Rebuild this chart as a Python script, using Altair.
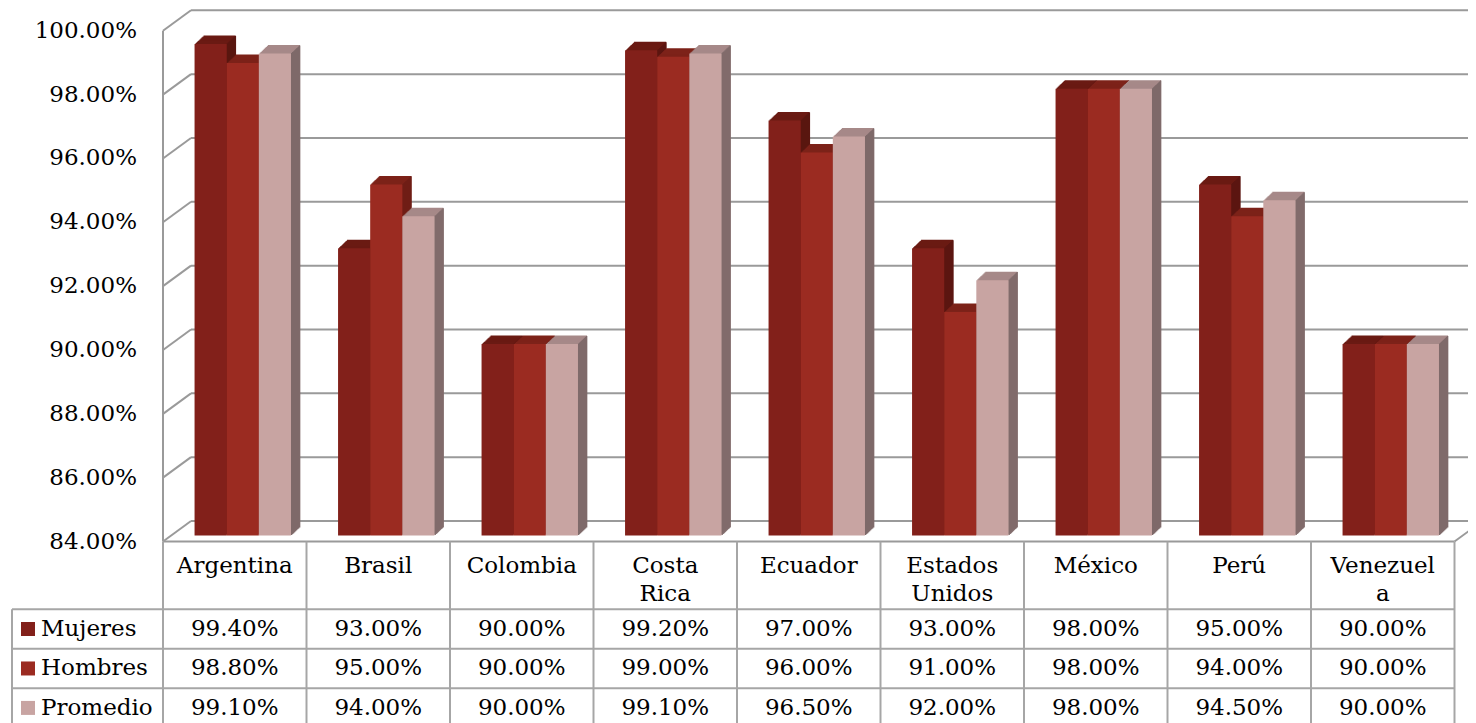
import altair as alt
import pandas as pd

# ---------------- data ----------------
countries = ["Argentina", "Brasil", "Colombia", "Costa Rica", "Ecuador",
             "Estados Unidos", "México", "Perú", "Venezuela"]
header_labels = ["Argentina", "Brasil", "Colombia", "Costa\nRica", "Ecuador",
                 "Estados\nUnidos", "México", "Perú", "Venezuel\na"]
series_names = ["Mujeres", "Hombres", "Promedio"]
mujeres = [99.40, 93.00, 90.00, 99.20, 97.00, 93.00, 98.00, 95.00, 90.00]
hombres = [98.80, 95.00, 90.00, 99.00, 96.00, 91.00, 98.00, 94.00, 90.00]
promedio = [99.10, 94.00, 90.00, 99.10, 96.50, 92.00, 98.00, 94.50, 90.00]
y_ticks = [84, 86, 88, 90, 92, 94, 96, 98, 100]

# ---------------- style ----------------
front_colors = ["#82201a", "#9b2b21", "#c8a4a2"]
top_colors = ["#6a1a13", "#7d2219", "#a68988"]
side_colors = ["#5a1610", "#6e1e16", "#7f6a6a"]
GRID = "#9a9a9a"
TBL = "#a6a6a6"
FONT = "DejaVu Serif"
FS = 23

PLOT_W, PLOT_H = 1305, 716
TABLE_W = 1291.5
Y_RANGE = [533.5, 22.8]
DEPTH_X, DEPTH_Y = 28, 20.5
BAR_DX, BAR_DY = 8, 6
EXT_X, EXT_Y = 9.0, 8.5
K = 9
BAR_W = 0.2239
HEADER_BOTTOM = 601.3
ROW_H = 39.45
LEG_X = -151

# ---------------- tables ----------------
rows = []
for i, c in enumerate(countries):
    for j, (s, vals) in enumerate(zip(series_names, [mujeres, hombres, promedio])):
        x0 = i + 0.5 + (j - 1.5) * BAR_W
        rows.append(dict(country=c, series=s, value=vals[i], x0=x0, x1=x0 + BAR_W,
                         base=y_ticks[0]))
bars_df = pd.DataFrame(rows)
grid_df = pd.DataFrame({"tick": y_ticks})
header_df = pd.DataFrame({"country": countries, "label": header_labels})
series_df = pd.DataFrame({"series": series_names})

xq = alt.Scale(domain=[0, len(countries)], range=[0, TABLE_W], zero=False, nice=False)
yq = alt.Scale(domain=[y_ticks[0], y_ticks[-1]], range=Y_RANGE, zero=False, nice=False)

# ---------------- 3D frame ----------------
back = alt.Chart(grid_df).mark_rule(color=GRID, strokeWidth=2, yOffset=-DEPTH_Y).encode(
    y=alt.Y("tick:Q", scale=yq, axis=None), x=alt.value(DEPTH_X), x2=alt.value(PLOT_W))
conn = alt.Chart(grid_df).mark_rule(color=GRID, strokeWidth=2, y2Offset=-DEPTH_Y).encode(
    y=alt.Y("tick:Q", scale=yq, axis=None), y2=alt.Y2("tick"),
    x=alt.value(0), x2=alt.value(DEPTH_X))
leftv = alt.Chart(grid_df).mark_rule(color=GRID, strokeWidth=2).encode(
    y=alt.Y("max(tick):Q", scale=yq, axis=None), y2=alt.Y2("min(tick)"), x=alt.value(0))
floor = alt.Chart(grid_df).mark_rule(color=GRID, strokeWidth=2).encode(
    y=alt.Y("min(tick):Q", scale=yq, axis=None), x=alt.value(0), x2=alt.value(TABLE_W))
rdiag = alt.Chart(grid_df).mark_rule(color=GRID, strokeWidth=2, y2Offset=-DEPTH_Y).encode(
    y=alt.Y("min(tick):Q", scale=yq, axis=None), y2=alt.Y2("min(tick)"),
    x=alt.value(TABLE_W), x2=alt.value(TABLE_W + DEPTH_X))
ylabels = alt.Chart(grid_df).transform_calculate(
    lbl="format(datum.tick, '.2f') + '%'"
).mark_text(align="right", baseline="middle", font=FONT, fontSize=FS, color="black").encode(
    y=alt.Y("tick:Q", scale=yq, axis=None), x=alt.value(-26), text="lbl:N")

# ---------------- 3D bars ----------------
bar_layers = []
for j, s in enumerate(series_names):
    src = alt.Chart(bars_df).transform_filter(alt.datum.series == s)
    enc = dict(x=alt.X("x0:Q", scale=xq, axis=None), x2=alt.X2("x1"),
               y=alt.Y("value:Q", scale=yq, axis=None), y2=alt.Y2("base"))
    enc_side = dict(x=alt.X("x1:Q", scale=xq, axis=None), x2=alt.X2("x1"),
                    y=alt.Y("value:Q", scale=yq, axis=None), y2=alt.Y2("base"))
    ex, ey = EXT_X / K, EXT_Y / K
    for k in range(K, 0, -1):
        ox = BAR_DX + k * ex
        oy = -BAR_DY - k * ey
        bar_layers.append(src.mark_rect(color=top_colors[j], xOffset=ox, x2Offset=ox,
                                        yOffset=oy, y2Offset=oy).encode(**enc))
    for k in range(1, K + 1):
        oy = -BAR_DY - (k - 0.5) * ey
        bar_layers.append(src.mark_rect(color=side_colors[j],
                                        xOffset=BAR_DX + (k - 1) * ex,
                                        x2Offset=BAR_DX + k * ex + 0.4,
                                        yOffset=oy, y2Offset=oy).encode(**enc_side))
    bar_layers.append(src.mark_rect(color=front_colors[j], xOffset=BAR_DX, x2Offset=BAR_DX,
                                    yOffset=-BAR_DY, y2Offset=-BAR_DY).encode(**enc))

bars_group = alt.layer(back, conn, leftv, floor, rdiag, ylabels, *bar_layers)

# ---------------- data table ----------------
xb = alt.Scale(type="band", domain=countries, range=[0, TABLE_W], paddingInner=0, paddingOuter=0)
yb = alt.Scale(type="band", domain=series_names,
               range=[HEADER_BOTTOM, HEADER_BOTTOM + 3 * ROW_H], paddingInner=0, paddingOuter=0)

tbl_h = alt.Chart(series_df).mark_rule(color=TBL, strokeWidth=2).encode(
    y=alt.Y("series:N", scale=yb, axis=None, bandPosition=0),
    x=alt.value(LEG_X), x2=alt.value(TABLE_W))
tbl_v = alt.Chart(header_df).mark_rule(color=TBL, strokeWidth=2).encode(
    x=alt.X("country:N", scale=xb, axis=None, bandPosition=0),
    y=alt.value(Y_RANGE[0]), y2=alt.value(PLOT_H))
tbl_r = alt.Chart(header_df).transform_filter(alt.datum.country == countries[-1]).mark_rule(
    color=TBL, strokeWidth=2).encode(
    x=alt.X("country:N", scale=xb, axis=None, bandPosition=1),
    y=alt.value(Y_RANGE[0]), y2=alt.value(PLOT_H))
tbl_l = alt.Chart(series_df).mark_rule(color=TBL, strokeWidth=2).encode(
    x=alt.value(LEG_X),
    y=alt.Y("series:N", scale=yb, axis=None, bandPosition=0), y2=alt.value(PLOT_H))
header = alt.Chart(header_df).mark_text(
    font=FONT, fontSize=FS, color="black", align="center", baseline="alphabetic",
    lineBreak="\n", lineHeight=28).encode(
    x=alt.X("country:N", scale=xb, axis=None, bandPosition=0.5),
    y=alt.value(565), text="label:N")
values = alt.Chart(bars_df).transform_calculate(
    lbl="format(datum.value, '.2f') + '%'"
).mark_text(font=FONT, fontSize=FS, color="black", align="center", baseline="middle").encode(
    x=alt.X("country:N", scale=xb, axis=None, bandPosition=0.5),
    y=alt.Y("series:N", scale=yb, axis=None, bandPosition=0.5),
    text="lbl:N")
leg_sq = alt.Chart(series_df).mark_square(size=196, opacity=1).encode(
    x=alt.value(-135),
    y=alt.Y("series:N", scale=yb, axis=None, bandPosition=0.5),
    color=alt.Color("series:N", scale=alt.Scale(domain=series_names, range=front_colors),
                    legend=None))
leg_txt = alt.Chart(series_df).mark_text(
    font=FONT, fontSize=FS, color="black", align="left", baseline="middle").encode(
    x=alt.value(-122),
    y=alt.Y("series:N", scale=yb, axis=None, bandPosition=0.5),
    text="series:N")

table_group = alt.layer(tbl_h, tbl_v, tbl_r, tbl_l, header, values, leg_sq, leg_txt)

chart = alt.layer(bars_group, table_group).resolve_scale(
    x="independent", y="independent", color="independent"
).properties(
    width=PLOT_W, height=PLOT_H, autosize="none",
    padding={"left": 155, "top": 0, "right": 0, "bottom": 0}
).configure_view(stroke=None)

chart.save("out.html", embed_options={"renderer": "svg", "actions": False})
